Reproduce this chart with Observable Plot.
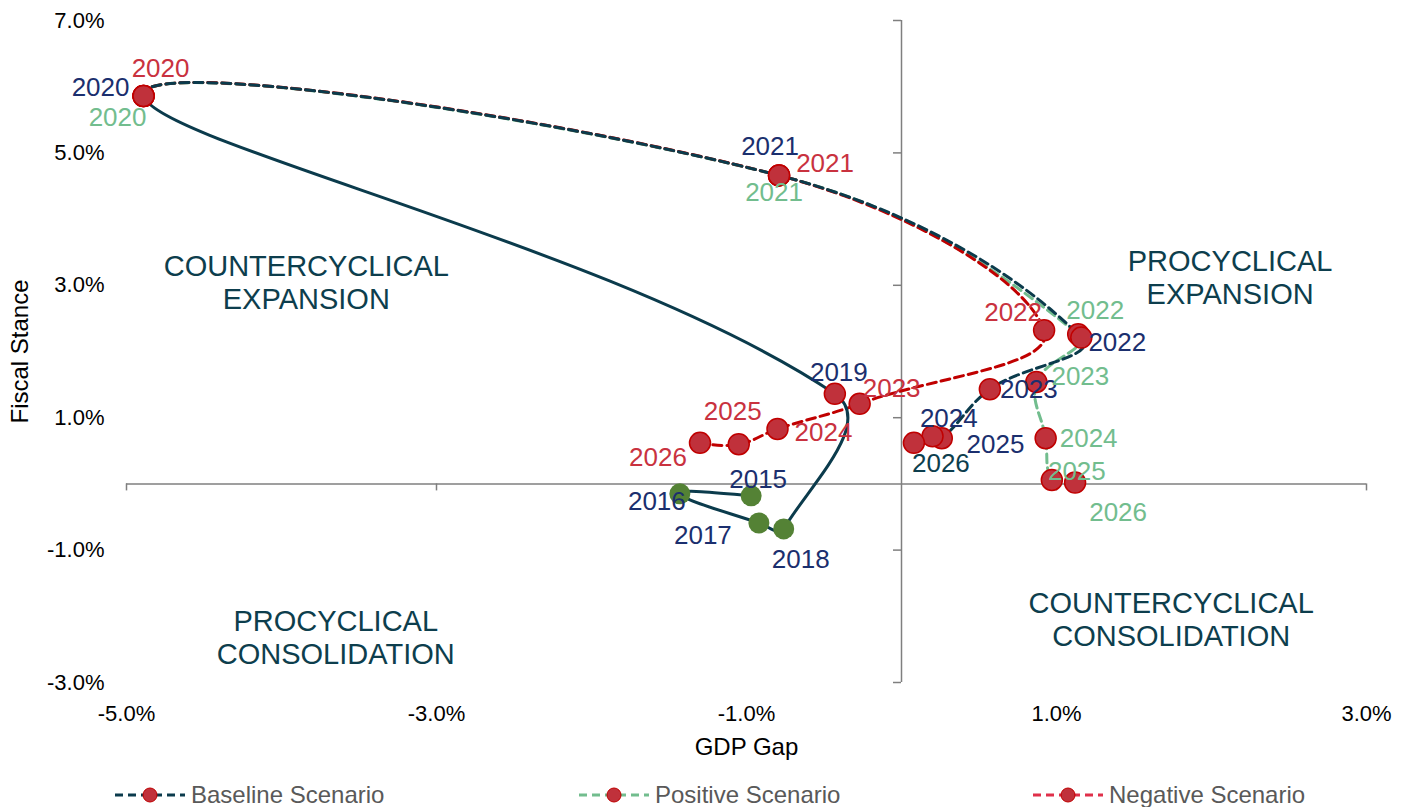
<!DOCTYPE html>
<html><head><meta charset="utf-8">
<script src="https://cdn.jsdelivr.net/npm/d3@7"></script>
<script src="https://cdn.jsdelivr.net/npm/@observablehq/plot@0.6"></script>
<style>
body{margin:0;background:#fff;font-family:"Liberation Sans",Arial,sans-serif;}
#wrap{position:relative;width:1408px;height:807px;overflow:hidden}
.leg{position:absolute;top:780px;display:flex;align-items:center;font-size:24px;color:#595959;white-space:nowrap;line-height:30px}
.leg svg{margin-right:4px}
</style></head><body><div id="wrap"></div>
<script>
// ---- data (percent) ----
const histYears  = [2015, 2016, 2017, 2018, 2019, 2020];
const histGap    = [-0.97, -1.43, -0.92, -0.76, -0.43, -4.89];
const histStance = [-0.18, -0.15, -0.59, -0.68, 1.36, 5.86];

const projYears  = [2020, 2021, 2022, 2023, 2024, 2025, 2026];
const baseGap    = [-4.89, -0.79, 1.16, 0.57, 0.26, 0.20, 0.08];
const baseStance = [5.86, 4.66, 2.21, 1.43, 0.69, 0.72, 0.62];
const posGap     = [-4.89, -0.79, 1.14, 0.87, 0.93, 0.97, 1.12];
const posStance  = [5.86, 4.66, 2.26, 1.54, 0.69, 0.06, 0.02];
const negGap     = [-4.89, -0.79, 0.92, -0.27, -0.80, -1.05, -1.30];
const negStance  = [5.86, 4.66, 2.32, 1.21, 0.83, 0.60, 0.62];

const xTicks = [-5, -3, -1, 1, 3];
const yTicks = [-3, -1, 1, 3, 5, 7];

const quadText   = ["COUNTERCYCLICAL\nEXPANSION", "PROCYCLICAL\nEXPANSION", "PROCYCLICAL\nCONSOLIDATION", "COUNTERCYCLICAL\nCONSOLIDATION"];
const quadGap    = [-3.84, 2.12, -3.65, 1.74];
const quadStance = [3.05, 3.12, -2.31, -2.04];

const seriesNames = ["Baseline Scenario", "Positive Scenario", "Negative Scenario"];

// ---- styles / layout ----
const C = {
  axis: "#7f7f7f", base: "#0b3b4c", pos: "#72bd8e", neg: "#c00000",
  dotFill: "#c0313b", dotStroke: "#c00000", hist: "#548235",
  navy: "#1b2f6e", red: "#c9323f", green: "#72bd8e", quad: "#0d3e4d"
};
// label nudges in px (dx, dy) per series/year
const nudge = {
  hist: {2015:[7,-16], 2016:[-23,8], 2017:[-56,13], 2018:[17,31], 2019:[4,-21]},
  base: {2020:[-43,-8], 2021:[-9,-29], 2022:[36,5], 2023:[39,0], 2024:[7,-20], 2025:[63,8], 2026:[27,21]},
  neg:  {2020:[17,-27], 2021:[46,-12], 2022:[-31,-18], 2023:[32,-15], 2024:[46,4], 2025:[-6,-33], 2026:[-42,15]},
  pos:  {2020:[-26,22], 2021:[-5,17], 2022:[17,-24], 2023:[44,-5], 2024:[43,0], 2025:[25,-8], 2026:[43,30]}
};

const W = 1408, H = 775, mL = 126, mR = 42, mT = 20, mB = H - 682;
const pxX = (W - mL - mR) / (xTicks[xTicks.length-1] - xTicks[0]);
const pxY = (H - mT - mB) / (yTicks[yTicks.length-1] - yTicks[0]);

const rows = (ys, gx, gy) => ys.map((yr, i) => ({year: yr, gap: gx[i], stance: gy[i]}));
const hist = rows(histYears, histGap, histStance);
const base = rows(projYears, baseGap, baseStance);
const pos  = rows(projYears, posGap, posStance);
const neg  = rows(projYears, negGap, negStance);
// each scenario is one continuous smoothed series: history + projection
const histPart = hist.slice(0, -1);
const full = s => [...histPart, ...s];
const nHist = histPart.length; // index of 2020 in full series

// Excel-like smoothed line: Bezier with tangents (P[i+1]-P[i-1]) scaled by segment length share.
// Only segments between indices [from, to] are drawn; others still shape the tangents.
function excelCurve(k, from, to) {
  return function(context) {
    let pts;
    return {
      areaStart() {}, areaEnd() {},
      lineStart() { pts = []; },
      point(x, y) { pts.push([+x, +y]); },
      lineEnd() {
        const n = pts.length;
        if (n < 2) return;
        const ca = [], cb = [];
        for (let i = 1; i < n - 1; i++) {
          const p = pts[i], p0 = pts[i-1], p2 = pts[i+1];
          const d01 = Math.hypot(p[0]-p0[0], p[1]-p0[1]);
          const d12 = Math.hypot(p2[0]-p[0], p2[1]-p[1]);
          const s = (d01 + d12) || 1, tx = p2[0]-p0[0], ty = p2[1]-p0[1];
          cb[i] = [p[0] - tx*k*d01/s, p[1] - ty*k*d01/s];
          ca[i] = [p[0] + tx*k*d12/s, p[1] + ty*k*d12/s];
        }
        const first = pts[0], last = pts[n-1];
        const nb = n > 2 ? cb[1] : last, pa = n > 2 ? ca[n-2] : first;
        ca[0] = [first[0] + (nb[0]-first[0])*0.5, first[1] + (nb[1]-first[1])*0.5];
        cb[n-1] = [last[0] + (pa[0]-last[0])*0.5, last[1] + (pa[1]-last[1])*0.5];
        const a = Math.max(0, from), b = Math.min(n - 1, to);
        context.moveTo(pts[a][0], pts[a][1]);
        for (let i = a; i < b; i++)
          context.bezierCurveTo(ca[i][0], ca[i][1], cb[i+1][0], cb[i+1][1], pts[i+1][0], pts[i+1][1]);
      }
    };
  };
}
const K = 0.4;
const solidCurve = excelCurve(K, 0, nHist);
const dashCurve = excelCurve(K, nHist, 1e9);

const fmt = d => d.toFixed(1) + "%";
const dash = "9,5";

function labelMarks(data, key, color) {
  return data.filter(d => nudge[key][d.year]).map(d => {
    const [dx, dy] = nudge[key][d.year];
    return Plot.text([d], {x: "gap", y: "stance", text: d => String(d.year), dx, dy,
      fill: key === "base" && d.year === 2026 ? C.quad : color, fontSize: 26});
  });
}

const chart = Plot.plot({
  width: W, height: H,
  marginLeft: mL, marginRight: mR, marginTop: mT, marginBottom: mB,
  x: {domain: [xTicks[0], xTicks[xTicks.length-1]]},
  y: {domain: [yTicks[0], yTicks[yTicks.length-1]]},
  style: {fontFamily: '"Liberation Sans", Arial, sans-serif', fontSize: "22px", color: "#000", background: "#fff", overflow: "visible"},
  marks: [
    Plot.ruleY([0], {x1: xTicks[0], x2: xTicks[xTicks.length-1], stroke: C.axis, strokeWidth: 1.5}),
    Plot.ruleX([0], {y1: yTicks[0], y2: yTicks[yTicks.length-1], stroke: C.axis, strokeWidth: 1.5}),
    Plot.ruleX(xTicks, {y1: 0, y2: -7 / pxY, stroke: C.axis, strokeWidth: 1.5}),
    Plot.ruleY(yTicks, {x1: 0, x2: -8 / pxX, stroke: C.axis, strokeWidth: 1.5}),
    Plot.axisX({ticks: xTicks, tickSize: 0, tickPadding: 23, tickFormat: fmt, fontSize: 22, label: null}),
    Plot.axisY({ticks: yTicks, tickSize: 0, tickPadding: 22, tickFormat: fmt, fontSize: 22, label: null}),
    Plot.text(["GDP Gap"], {text: d => d, frameAnchor: "bottom", textAnchor: "middle", lineAnchor: "middle", dy: 65, fontSize: 24}),
    Plot.text(["Fiscal Stance"], {text: d => d, frameAnchor: "left", textAnchor: "middle", dx: -106, rotate: -90, fontSize: 24}),
    Plot.text(quadText, {text: d => d, x: quadGap, y: quadStance, fill: C.quad, fontSize: 29, lineHeight: 1.14}),
    Plot.line(full(pos), {x: "gap", y: "stance", curve: dashCurve, stroke: C.pos, strokeWidth: 3, strokeDasharray: dash}),
    Plot.line(full(neg), {x: "gap", y: "stance", curve: dashCurve, stroke: C.neg, strokeWidth: 3, strokeDasharray: dash}),
    Plot.line(full(base), {x: "gap", y: "stance", curve: dashCurve, stroke: C.base, strokeWidth: 3, strokeDasharray: dash}),
    Plot.line(full(base), {x: "gap", y: "stance", curve: solidCurve, stroke: C.base, strokeWidth: 3}),
    Plot.dot(hist.filter(d => d.year <= 2018), {x: "gap", y: "stance", r: 10.5, fill: C.hist}),
    Plot.dot([...pos, ...neg, ...base, ...hist.filter(d => d.year > 2018)], {x: "gap", y: "stance", r: 10.5, fill: C.dotFill, stroke: C.dotStroke, strokeWidth: 1.5}),
    ...labelMarks(hist, "hist", C.navy),
    ...labelMarks(base, "base", C.navy),
    ...labelMarks(neg, "neg", C.red),
    ...labelMarks(pos, "pos", C.green)
  ]
});
const wrap = document.getElementById("wrap");
wrap.appendChild(chart);

// legend
const legColors = [C.base, C.pos, "#e0304a"];
const legLeft = [113, 577, 1031];
seriesNames.forEach((name, i) => {
  const div = document.createElement("div");
  div.className = "leg";
  div.style.left = legLeft[i] + "px";
  div.innerHTML = `<svg width="74" height="20"><line x1="2" x2="72" y1="10" y2="10" stroke="${legColors[i]}" stroke-width="3" stroke-dasharray="8,5"/><circle cx="37" cy="10" r="7" fill="${C.dotFill}" stroke="${C.dotStroke}"/></svg><span>${name}</span>`;
  wrap.appendChild(div);
});
</script></body></html>
